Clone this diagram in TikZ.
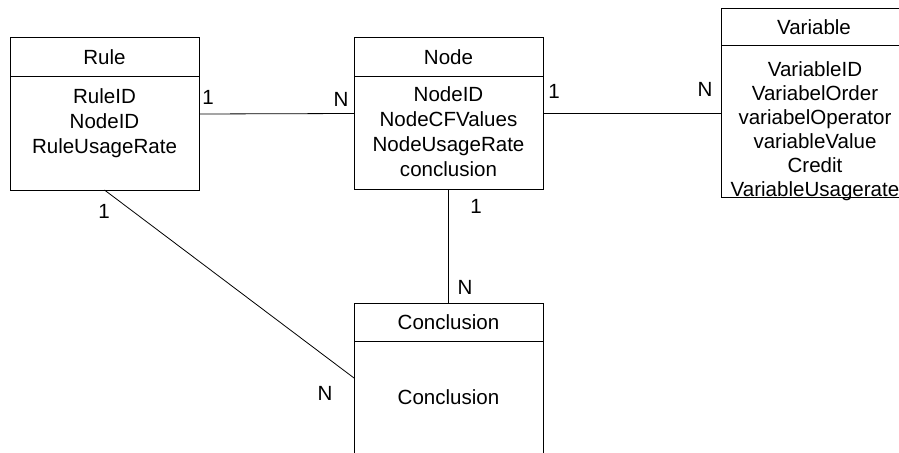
\documentclass[tikz,border=0pt]{standalone}
\usepackage{fontspec}
\setmainfont{Liberation Sans}
\begin{document}
\begin{tikzpicture}[x=0.75pt,y=-0.75pt,
  font=\fontsize{15.4}{18.75}\selectfont,
  entity/.style={draw=black, line width=0.75pt, rectangle, anchor=north west, inner sep=0pt, outer sep=0pt},
  txt/.style={align=center, inner sep=0pt, outer sep=0pt},
  card/.style={inner sep=0pt, outer sep=0pt},
  link/.style={draw=black, line width=0.6pt}]
\clip (0,0) rectangle (899,453);
% entity boxes
\node[entity, minimum width=141.75pt, minimum height=114pt] (rule) at (10,38) {};
\node[entity, minimum width=141.75pt, minimum height=113.25pt] (node) at (354,38) {};
\node[entity, minimum width=144pt, minimum height=141pt] (var) at (721,9) {};
\node[entity, minimum width=141.75pt, minimum height=125.25pt] (conc) at (354,303) {};
% header separators
\draw[line width=0.75pt] ([yshift=-29.25pt]rule.north west) -- ([yshift=-29.25pt]rule.north east);
\draw[line width=0.75pt] ([yshift=-29.25pt]node.north west) -- ([yshift=-29.25pt]node.north east);
\draw[line width=0.75pt] ([yshift=-27.75pt]var.north west) -- ([yshift=-27.75pt]var.north east);
\draw[line width=0.75pt] ([yshift=-28.5pt]conc.north west) -- ([yshift=-28.5pt]conc.north east);
% titles
\node[txt] (ruleT) at (104.5,57) {Rule};
\node[txt] (nodeT) at (448.5,57) {Node};
\node[txt] (varT) at (814,27) {Variable};
\node[txt] (concT) at (448.5,322) {Conclusion};
% bodies
\node[txt, anchor=north] (ruleB) at (104.5,89) {RuleID\\NodeID\\RuleUsageRate};
\node[txt, anchor=north] (nodeB) at (448.5,87) {NodeID\\NodeCFValues\\NodeUsageRate\\conclusion};
\node[txt, anchor=north, font=\fontsize{15.4}{18}\selectfont] (varB) at (815,62) {VariableID\\VariabelOrder\\variabelOperator\\variableValue\\Credit\\VariableUsagerate};
\node[txt] (concB) at (448.5,397) {Conclusion};
% connectors
\draw[link] (rule.east) -- (node.west);
\draw[link] (node.east) -- (node.east -| var.west);
\draw[link] (node.south) -- (conc.north);
\draw[link] (rule.south) -- ([yshift=-56.25pt]conc.north west);
% cardinalities
\node[card] (c1) at (208,97) {1};
\node[card] (c2) at (341,99) {N};
\node[card] (c3) at (554,91) {1};
\node[card] (c4) at (705,89) {N};
\node[card] (c5) at (476,206) {1};
\node[card] (c6) at (465,287) {N};
\node[card] (c7) at (104,211) {1};
\node[card] (c8) at (325,393) {N};
\end{tikzpicture}
\end{document}
